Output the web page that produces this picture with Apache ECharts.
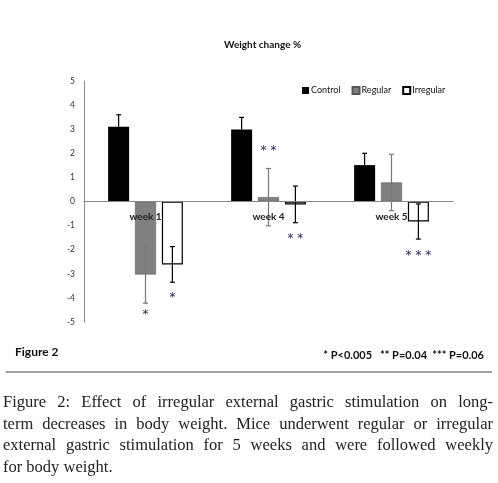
<!DOCTYPE html>
<html>
<head>
  <meta charset="utf-8">
  <title>Weight change</title>
  <script src="https://cdn.jsdelivr.net/npm/echarts@6/dist/echarts.min.js"></script>
  <style>
    body { margin: 0; background: #fff; }
    #main { position: absolute; left: 0; top: 0; width: 498px; height: 483px; }
    #caption {
      position: absolute; left: 3px; top: 391px; width: 490px;
      font-family: "Liberation Serif", "DejaVu Serif", serif;
      font-size: 16.5px; line-height: 21.5px; color: #222;
    }
    #caption div { text-align: justify; text-align-last: justify; white-space: nowrap; }
    #caption div.last { text-align-last: left; }
  </style>
</head>
<body>
<div id="main"></div>
<div id="caption">
  <div>Figure 2: Effect of irregular external gastric stimulation on long-</div>
  <div>term decreases in body weight. Mice underwent regular or irregular</div>
  <div>external gastric stimulation for 5 weeks and were followed weekly</div>
  <div class="last">for body weight.</div>
</div>
<script type="text/javascript">
  // data
  var categories = ['week 1', 'week 4', 'week 5'];
  var seriesNames = ['Control', 'Regular', 'Irregular'];
  var control = [3.1, 2.99, 1.51];
  var regular = [-3.03, 0.18, 0.79];
  var irregular = [-2.61, -0.12, -0.83];
  var controlErr = [0.5, 0.5, 0.49];
  var regularErr = [1.19, 1.19, 1.17];
  var irregularErr = [0.74, 0.76, 0.73];
  var yTicks = [-5, -4, -3, -2, -1, 0, 1, 2, 3, 4, 5];

  // significance marks: category, bar index, height, text
  var markCat = [0, 0, 1, 1, 2];
  var markBar = [1, 2, 1, 2, 2];
  var markY = [-4.72, -4.0, 2.1, -1.56, -2.27];
  var markText = ['*', '*', '* *', '* *', '* * *'];

  var barW = 21;
  var barGap = 0.28;
  var step = barW * (1 + barGap);

  var chartDom = document.getElementById('main');
  var myChart = echarts.init(chartDom);

  function errData(means, errs) {
    return means.map(function (m, i) { return [i, m, errs[i]]; });
  }

  function errSeries(name, barIdx, means, errs, color, upOnly) {
    return {
      name: name,
      type: 'custom',
      z: 4,
      silent: true,
      data: errData(means, errs),
      renderItem: function (params, api) {
        var c = api.value(0), m = api.value(1), e = api.value(2);
        var lo = upOnly ? m : m - e;
        var top = api.coord([c, m + e]);
        var bot = api.coord([c, lo]);
        var x = top[0] + (barIdx - 1) * step;
        var style = { stroke: color, lineWidth: 1.2 };
        var kids = [
          { type: 'line', shape: { x1: x, y1: top[1], x2: x, y2: bot[1] }, style: style },
          { type: 'line', shape: { x1: x - 2.5, y1: top[1], x2: x + 2.5, y2: top[1] }, style: style }
        ];
        if (!upOnly) {
          kids.push({ type: 'line', shape: { x1: x - 2.5, y1: bot[1], x2: x + 2.5, y2: bot[1] }, style: style });
        }
        return { type: 'group', children: kids };
      }
    };
  }

  var option = {
    animation: false,
    textStyle: { fontFamily: 'Lato' },
    title: {
      text: 'Weight change %',
      left: 219,
      top: 35,
      textStyle: { fontFamily: 'Lato', fontSize: 10, fontWeight: 'bold', color: '#111' }
    },
    legend: {
      data: seriesNames,
      left: 297,
      top: 81,
      itemWidth: 7,
      itemHeight: 7,
      itemGap: 11,
      icon: 'rect',
      textStyle: { fontFamily: 'Lato', fontSize: 9, color: '#111', padding: [0, 0, 0, -3] }
    },
    grid: { left: 84, right: 45, top: 81, bottom: 161 },
    xAxis: {
      type: 'category',
      data: categories,
      z: 5,
      axisLine: { onZero: true, lineStyle: { color: '#888', width: 1 } },
      axisTick: { show: false },
      axisLabel: { show: false }
    },
    yAxis: {
      type: 'value',
      min: yTicks[0],
      max: yTicks[yTicks.length - 1],
      interval: 1,
      splitLine: { show: false },
      axisLine: { show: true, lineStyle: { color: '#888', width: 1 } },
      axisTick: { show: false },
      axisLabel: { margin: 9, fontFamily: 'Lato', fontSize: 8.5, color: '#333' }
    },
    series: [
      {
        name: 'Control', type: 'bar', data: control, barWidth: barW, barGap: (barGap * 100) + '%',
        itemStyle: { color: '#000' }
      },
      {
        name: 'Regular', type: 'bar', data: regular, barWidth: barW,
        itemStyle: { color: '#808080', borderColor: '#555', borderWidth: 0.5 }
      },
      {
        name: 'Irregular', type: 'bar', data: irregular, barWidth: barW,
        itemStyle: { color: '#fff', borderColor: '#000', borderWidth: 1.2 }
      },
      errSeries('Control', 0, control, controlErr, '#000', true),
      errSeries('Regular', 1, regular, regularErr, '#777', false),
      errSeries('Irregular', 2, irregular, irregularErr, '#000', false),
      {
        // category labels sit just under the zero line, drawn over the bars
        type: 'custom',
        z: 6,
        silent: true,
        data: categories.map(function (c, i) { return [i, 0]; }),
        renderItem: function (params, api) {
          var p = api.coord([api.value(0), 0]);
          return {
            type: 'text',
            x: p[0],
            y: p[1] + 15,
            style: {
              text: categories[params.dataIndex],
              fontFamily: 'Lato',
              fontSize: 10,
              fontWeight: 'bold',
              fill: '#222',
              align: 'center',
              verticalAlign: 'middle'
            }
          };
        }
      },
      {
        type: 'custom',
        z: 6,
        silent: true,
        data: markY.map(function (y, i) { return [markCat[i], y, markBar[i], i]; }),
        renderItem: function (params, api) {
          var p = api.coord([api.value(0), api.value(1)]);
          var i = api.value(3);
          return {
            type: 'text',
            x: p[0] + (api.value(2) - 1) * step,
            y: p[1],
            style: {
              text: markText[i],
              fontFamily: 'DejaVu Sans',
              fontSize: 12,
              fill: '#1c2450',
              align: 'center',
              verticalAlign: 'middle'
            }
          };
        }
      }
    ],
    graphic: [
      {
        type: 'text', left: 15, top: 346,
        style: { text: 'Figure 2', fontFamily: 'Lato', fontSize: 12, fontWeight: 'bold', fill: '#111' }
      },
      {
        type: 'text', right: 14, top: 350,
        style: { text: '* P<0.005   ** P=0.04  *** P=0.06', fontFamily: 'Lato', fontSize: 11, fontWeight: 'bold', fill: '#111' }
      },
      {
        type: 'rect', shape: { x: 6, y: 371, width: 486, height: 2 },
        style: { fill: '#a0a0a0' }
      }
    ]
  };

  myChart.setOption(option);
</script>
</body>
</html>
